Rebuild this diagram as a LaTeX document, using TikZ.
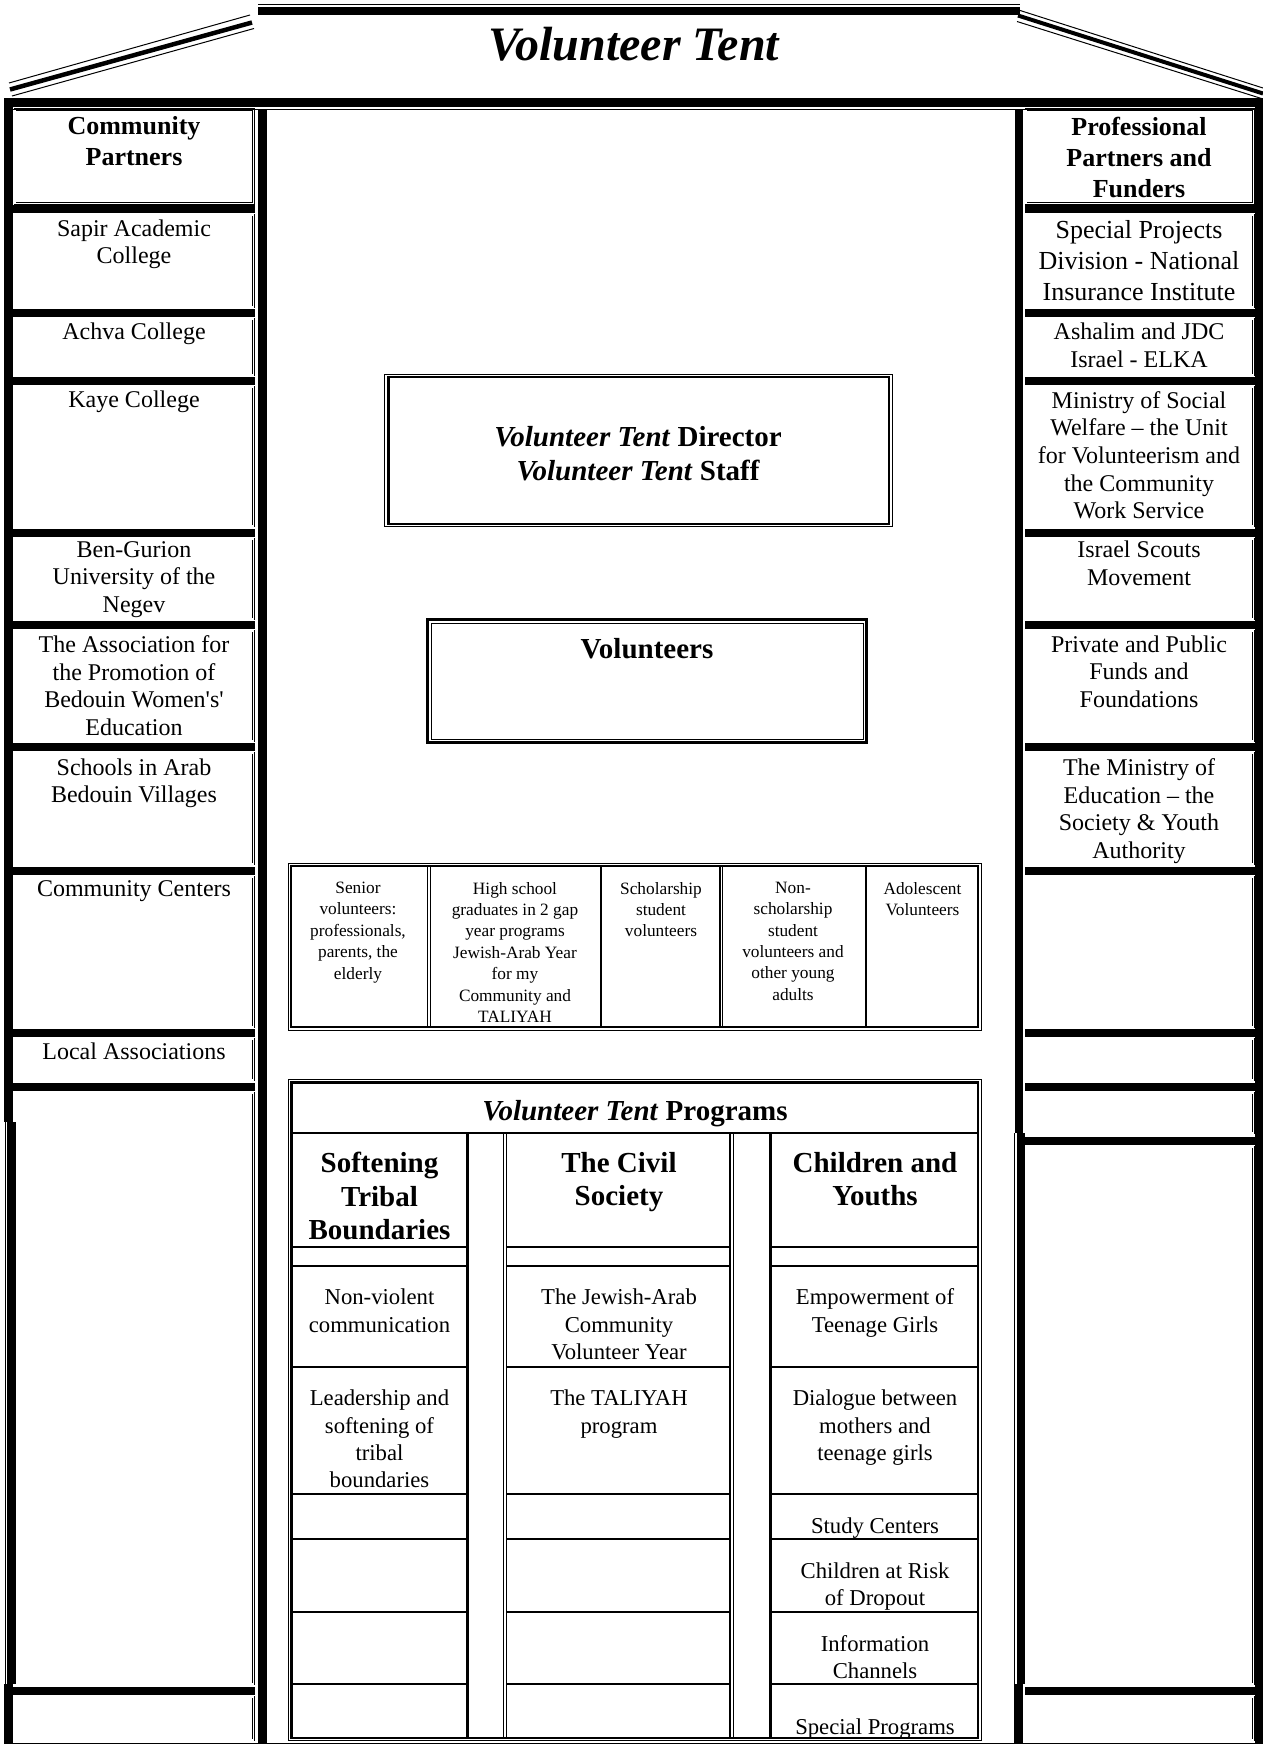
\documentclass[tikz,border=0pt]{standalone}
\usepackage{fontspec}
\setmainfont{Liberation Serif}[Ligatures=TeXOff]
\usepackage{tikz}
\tikzstyle{thinrule} = [line width=1pt]
\tikzstyle{heavyrule} = [line width=2.5pt]
\tikzstyle{cellframe} = [double, line width=0.7pt, double distance=1.2pt]
\tikzstyle{sidetext} = [anchor=north, inner sep=0pt, align=center, font=\fontsize{24}{27.7}\selectfont]
\tikzstyle{sidehead} = [anchor=north, inner sep=0pt, align=center, font=\bfseries\fontsize{26}{31}\selectfont]
\tikzstyle{kindtext} = [anchor=north, inner sep=0pt, align=center, font=\fontsize{17.3}{21.4}\selectfont]
\tikzstyle{progtext} = [anchor=north, inner sep=0pt, align=center, font=\fontsize{22.7}{27.4}\selectfont]
\tikzstyle{proghead} = [anchor=north, inner sep=0pt, align=center, font=\bfseries\fontsize{29}{33.4}\selectfont]
\tikzstyle{boldline} = [anchor=base, inner sep=0pt, font=\bfseries\fontsize{29}{33.4}\selectfont]

\begin{document}
\begin{tikzpicture}[x=1pt, y=-1pt]
\useasboundingbox (0,0) rectangle (1263,1745);

% Roof
\draw[thinrule] (258,4.5) -- (1020,4.5);
\fill (258,7) rectangle (1020,15.5);
\draw[thinrule] (9,83) -- (250,15);
\draw[line width=4.5pt] (10,89.5) -- (252,22.5);
\draw[thinrule] (12,96) -- (254,28.5);
\draw[thinrule] (1017,9.5) -- (1263,88);
\draw[line width=4pt] (1018,15.5) -- (1263,93.5);
\draw[thinrule] (1017,21.5) -- (1263,99);
\node[anchor=base, inner sep=0pt, font=\bfseries\itshape\fontsize{48}{56}\selectfont] (title) at (634,61) {Volunteer Tent};

% Side cells
\foreach \t/\b in {109.5/203.5, 215/307, 319/375, 387/526, 539/619, 631/741, 753/864, 877/1027, 1039/1080, 1093/1684, 1697/1740}
  \draw[cellframe] (15,\t) rectangle (253.7,\b);
\foreach \t in {215, 319, 387, 539, 631, 753, 877, 1039, 1093, 1697}
  \fill (13.3,\t-10) rectangle (255,\t-2.5);
\foreach \t/\b in {109.5/203.5, 215/307, 319/375, 387/526, 539/619, 631/741, 753/864, 877/1027, 1039/1080, 1093/1133, 1147/1684, 1697/1740}
  \draw[cellframe] (1026,\t) rectangle (1253.3,\b);
\foreach \t in {215, 319, 387, 539, 631, 753, 877, 1039, 1093, 1147, 1697}
  \fill (1024.7,\t-10) rectangle (1254.6,\t-2.5);

% Walls
\fill (4,98) rectangle (1263,107);
\draw[thinrule] (4,109.5) -- (1263,109.5);
\fill (4,107) rectangle (13,1122);
\fill (7,1122) rectangle (16,1684);
\draw[thinrule] (5,1122) -- (5,1684);
\fill (4,1684) rectangle (13,1743);
\fill (258,110) rectangle (267,1743);
\fill (1015,110) rectangle (1023,1133);
\fill (1017,1133) rectangle (1025,1684);
\draw[thinrule] (1014.5,1133) -- (1014.5,1684);
\fill (1014,1684) rectangle (1023,1743);
\fill (1255,107) rectangle (1263,1743);
\draw[line width=1.5pt] (4,1743.5) -- (1263,1743.5);

% Community partners
\node[sidehead] (commpart) at (134,116.6) {Community\\Partners};
\node[sidetext] (sapir) at (134,219.4) {Sapir Academic\\College};
\node[sidetext] (achva) at (134,323) {Achva College};
\node[sidetext] (kaye) at (134,390.9) {Kaye College};
\node[sidetext] (bgu) at (134,541.1) {Ben-Gurion\\University of the\\Negev};
\node[sidetext] (assoc) at (134,635.4) {The Association for\\the Promotion of\\Bedouin Women's'\\Education};
\node[sidetext] (schools) at (134,758.4) {Schools in Arab\\Bedouin Villages};
\node[sidetext] (centers) at (134,880.4) {Community Centers};
\node[sidetext] (localassoc) at (134,1043) {Local Associations};

% Professional partners
\node[sidehead] (profpart) at (1139,116.6) {Professional\\Partners and\\Funders};
\node[sidetext, font=\fontsize{26}{31}\selectfont] (spd) at (1139,220.6) {Special Projects\\Division - National\\Insurance Institute};
\node[sidetext] (ashalim) at (1139,323) {Ashalim and JDC\\Israel - ELKA};
\node[sidetext] (welfare) at (1139,390.9) {Ministry of Social\\Welfare – the Unit\\for Volunteerism and\\the Community\\Work Service};
\node[sidetext] (scouts) at (1139,541.1) {Israel Scouts\\Movement};
\node[sidetext] (funds) at (1139,635.4) {Private and Public\\Funds and\\Foundations};
\node[sidetext] (education) at (1139,758.4) {The Ministry of\\Education – the\\Society \& Youth\\Authority};

% Staff and volunteers
\draw[thinrule] (384.5,374.3) rectangle (892.2,526.7);
\draw[line width=2.4pt] (388.4,377.2) rectangle (888.8,523.8);
\node[inner sep=0pt, align=center, font=\bfseries\fontsize{29}{33.4}\selectfont] (director) at (638,453.8) {\textit{Volunteer Tent} Director\\\textit{Volunteer Tent} Staff};
\draw[line width=2.8pt] (427.6,619.7) rectangle (866.2,742.8);
\draw[thinrule] (431.3,623.3) rectangle (863.5,739.8);
\node[boldline] (volunteers) at (647,658.6) {Volunteers};

% Kinds of volunteers
\draw[thinrule] (288.5,863.3) rectangle (981,1030);
\draw[line width=2.2pt] (291,865.6) rectangle (978,1027.2);
\draw[line width=1.2pt] (427.6,865.6) -- (427.6,1027.2) (430.6,865.6) -- (430.6,1027.2);
\draw[heavyrule] (601.2,865.6) -- (601.2,1027.2);
\draw[line width=1.2pt] (720,865.6) -- (720,1027.2) (722.8,865.6) -- (722.8,1027.2);
\draw[heavyrule] (866,865.6) -- (866,1027.2);
\node[kindtext] (senior) at (358,881.8) {Senior\\volunteers:\\professionals,\\parents, the\\elderly};
\node[kindtext] (gapyear) at (515,881.8) {High school\\graduates in 2 gap\\year programs\\Jewish-Arab Year\\for my\\Community and\\TALIYAH};
\node[kindtext] (scholar) at (661,881.8) {Scholarship\\student\\volunteers};
\node[kindtext] (nonscholar) at (793,881.8) {Non-\\scholarship\\student\\volunteers and\\other young\\adults};
\node[kindtext] (teens) at (922.5,881.8) {Adolescent\\Volunteers};

% Programs
\draw[thinrule] (288.5,1079.5) rectangle (981,1740.5);
\draw[heavyrule] (291.5,1082.3) rectangle (978,1738);
\draw[heavyrule] (291.5,1132.8) -- (978,1132.8);
\node[boldline] (programs) at (635,1120.3) {\textit{Volunteer Tent} Programs};
\draw[line width=3pt] (467.5,1132.8) -- (467.5,1738);
\draw[line width=1.2pt] (503.3,1132.8) -- (503.3,1738) (506.3,1132.8) -- (506.3,1738);
\draw[line width=2.2pt] (730.3,1132.8) -- (730.3,1738);
\draw[thinrule] (733.2,1132.8) -- (733.2,1738);
\draw[line width=3pt] (770.8,1132.8) -- (770.8,1738);
\foreach \y in {1246.5, 1265.5, 1367, 1494, 1538.5, 1612, 1684}
  \draw[line width=2pt] (292,\y) -- (466,\y) (507,\y) -- (729,\y) (772,\y) -- (977,\y);
\node[proghead] (tribal) at (379.5,1152) {Softening\\Tribal\\Boundaries};
\node[proghead] (civil) at (619,1152) {The Civil\\Society};
\node[proghead] (youth) at (875,1152) {Children and\\Youths};
\node[progtext] (nonviolent) at (379.5,1288.8) {Non-violent\\communication};
\node[progtext] (leadership) at (379.5,1389.8) {Leadership and\\softening of\\tribal\\boundaries};
\node[progtext] (jayear) at (619,1288.8) {The Jewish-Arab\\Community\\Volunteer Year};
\node[progtext] (taliyah) at (619,1389.8) {The TALIYAH\\program};
\node[progtext] (girls) at (875,1288.8) {Empowerment of\\Teenage Girls};
\node[progtext] (dialogue) at (875,1389.8) {Dialogue between\\mothers and\\teenage girls};
\node[progtext] (study) at (875,1517.3) {Study Centers};
\node[progtext] (dropout) at (875,1562.3) {Children at Risk\\of Dropout};
\node[progtext] (channels) at (875,1634.8) {Information\\Channels};
\node[progtext] (special) at (875,1718.8) {Special Programs};
\end{tikzpicture}
\end{document}
